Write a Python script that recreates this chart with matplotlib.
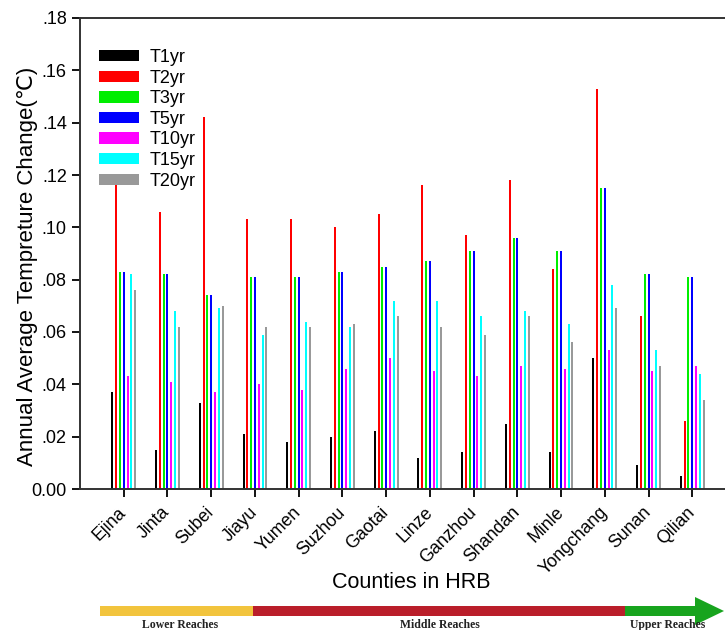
import matplotlib
matplotlib.use("Agg")
import matplotlib.pyplot as plt
import numpy as np
from matplotlib.ticker import FuncFormatter
from matplotlib.patches import Rectangle, Polygon

counties = ["Ejina", "Jinta", "Subei", "Jiayu", "Yumen", "Suzhou", "Gaotai",
            "Linze", "Ganzhou", "Shandan", "Minle", "Yongchang", "Sunan", "Qilian"]
series_names = ["T1yr", "T2yr", "T3yr", "T5yr", "T10yr", "T15yr", "T20yr"]
T1yr = [0.037, 0.015, 0.033, 0.021, 0.018, 0.020, 0.022, 0.012, 0.014, 0.025, 0.014, 0.050, 0.009, 0.005]
T2yr = [0.116, 0.106, 0.142, 0.103, 0.103, 0.100, 0.105, 0.116, 0.097, 0.118, 0.084, 0.153, 0.066, 0.026]
T3yr = [0.083, 0.082, 0.074, 0.081, 0.081, 0.083, 0.085, 0.087, 0.091, 0.096, 0.091, 0.115, 0.082, 0.081]
T5yr = [0.083, 0.082, 0.074, 0.081, 0.081, 0.083, 0.085, 0.087, 0.091, 0.096, 0.091, 0.115, 0.082, 0.081]
T10yr = [0.043, 0.041, 0.037, 0.040, 0.038, 0.046, 0.050, 0.045, 0.043, 0.047, 0.046, 0.053, 0.045, 0.047]
T15yr = [0.082, 0.068, 0.069, 0.059, 0.064, 0.062, 0.072, 0.072, 0.066, 0.068, 0.063, 0.078, 0.053, 0.044]
T20yr = [0.076, 0.062, 0.070, 0.062, 0.062, 0.063, 0.066, 0.062, 0.059, 0.066, 0.056, 0.069, 0.047, 0.034]
series = [T1yr, T2yr, T3yr, T5yr, T10yr, T15yr, T20yr]
colors = ["#000000", "#FF0000", "#00EE00", "#0000FF", "#FF00FF", "#00FFFF", "#999999"]
yticks = [0.0, 0.02, 0.04, 0.06, 0.08, 0.10, 0.12, 0.14, 0.16, 0.18]
reach_labels = ["Lower Reaches", "Middle Reaches", "Upper Reaches"]

W, H = 725, 630
fig = plt.figure(figsize=(W / 100, H / 100), dpi=100)
sans = ["Liberation Sans", "DejaVu Sans"]
plt.rcParams["font.family"] = sans

# axes: left 80px, top 18px, bottom 489px; extends slightly past right edge
left, right, top, bottom = 80, 736, 18, 489
ax = fig.add_axes([left / W, 1 - bottom / H, (right - left) / W, (bottom - top) / H])

x = np.arange(len(counties))
spacing = 0.087
width = 0.046
for i, (name, vals, c) in enumerate(zip(series_names, series, colors)):
    ax.bar(x + (i - 3) * spacing, vals, width=width, color=c, label=name, linewidth=0)

ax.set_xlim(-1, 14)
ax.set_ylim(0, 0.18)
ax.set_yticks(yticks)
ax.yaxis.set_major_formatter(FuncFormatter(lambda v, p: "0.00" if abs(v) < 1e-9 else ("%.2f" % v)[1:]))
ax.set_xticks(x)
ax.set_xticklabels(counties, rotation=45, ha="right", rotation_mode="anchor", va="center", fontsize=12.8)
ax.tick_params(axis="y", labelsize=13, length=6, width=1.3, direction="out")
ax.tick_params(axis="x", length=6, width=1.3, direction="out", pad=9)
for s in ax.spines.values():
    s.set_linewidth(1.4)
    s.set_color("#333333")

ax.set_ylabel("Annual Average Tempreture Change(\u2103)", fontsize=16)
ax.yaxis.set_label_coords((38 - left) / (right - left), (bottom - 266) / (bottom - top))

leg = ax.legend(loc="upper left", bbox_to_anchor=(99 / W, 1 - 49 / H), bbox_transform=fig.transFigure,
                frameon=False, fontsize=13, handlelength=2.2, handleheight=0.6,
                labelspacing=0.2, handletextpad=0.6, borderpad=0, borderaxespad=0)

fig.text(411 / W, 1 - 582 / H, "Counties in HRB", ha="center", va="center", fontsize=15.5)

# reaches arrow
def fx(px):
    return px / W

def fy(py):
    return 1 - py / H

bar_top, bar_bot = 606, 616
segs = [(100, 253, "#F2C43D"), (253, 625, "#BA1E2A"), (625, 696, "#18A41E")]
for x0, x1, c in segs:
    fig.add_artist(Rectangle((fx(x0), fy(bar_bot)), fx(x1) - fx(x0), fy(bar_top) - fy(bar_bot),
                             transform=fig.transFigure, facecolor=c, edgecolor="none"))
fig.add_artist(Polygon([(fx(695), fy(597)), (fx(724), fy(611)), (fx(695), fy(625))],
                       closed=True, transform=fig.transFigure, facecolor="#18A41E", edgecolor="none"))
for lbl, cx in zip(reach_labels, [180, 440, 668]):
    fig.text(fx(cx), fy(619), lbl, ha="center", va="top", fontsize=8.5,
             family=["Liberation Serif", "DejaVu Serif"], fontweight="bold", color="#222222")

fig.savefig("out.png", dpi=100)
